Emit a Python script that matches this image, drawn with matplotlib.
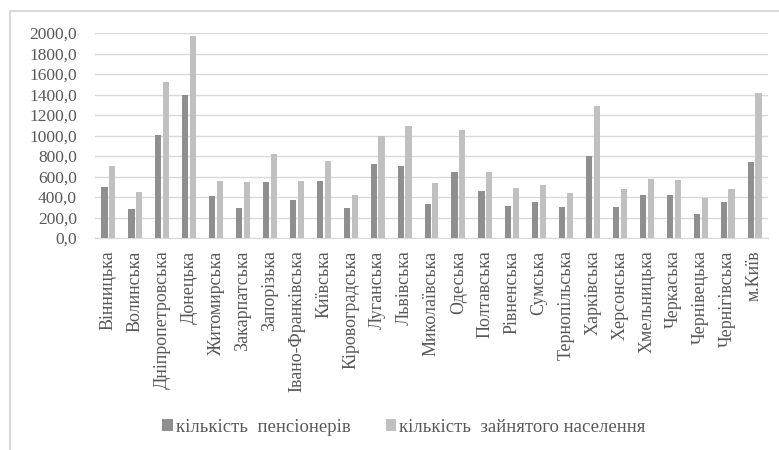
import matplotlib
matplotlib.use("Agg")
import numpy as np
import matplotlib.pyplot as plt
from matplotlib.patches import Rectangle
from matplotlib.ticker import FuncFormatter

regions = ['Вінницька', 'Волинська', 'Дніпропетровська', 'Донецька', 'Житомирська',
           'Закарпатська', 'Запорізька', 'Івано-Франківська', 'Київська', 'Кіровоградська',
           'Луганська', 'Львівська', 'Миколаївська', 'Одеська', 'Полтавська',
           'Рівненська', 'Сумська', 'Тернопільська', 'Харківська', 'Херсонська',
           'Хмельницька', 'Черкаська', 'Чернівецька', 'Чернігівська', 'м.Київ']
pensioners = [502, 282, 1004, 1395, 405, 291, 542, 367, 560, 297,
              722, 703, 336, 645, 462, 309, 356, 301, 801, 301,
              415, 415, 232, 356, 745]
employed = [704, 447, 1526, 1968, 552, 542, 821, 560, 750, 424,
            999, 1097, 532, 1058, 645, 492, 513, 435, 1288, 474,
            572, 563, 390, 474, 1412]

text_color = '#595959'
plt.rcParams['font.family'] = ['Liberation Serif', 'DejaVu Serif']

fig = plt.figure(figsize=(7.79, 4.5), dpi=100)
W, H = 779, 450
ax = fig.add_axes([95 / W, 212 / H, 673 / W, 205 / H])

x = np.arange(len(regions))
w = 0.23
ax.bar(x - 0.145, pensioners, w, color='#8f8f8f', label='кількість  пенсіонерів', zorder=3)
ax.bar(x + 0.145, employed, w, color='#c0c0c0', label='кількість  зайнятого населення', zorder=3)

ax.set_xlim(-0.5, len(regions) - 0.5)
ax.set_ylim(0, 2000)
ax.set_yticks(range(0, 2001, 200))
ax.yaxis.set_major_formatter(FuncFormatter(lambda v, p: f'{v:.1f}'.replace('.', ',')))
ax.grid(axis='y', color='#d9d9d9', linewidth=1, zorder=0)
for s in ['top', 'right', 'left']:
    ax.spines[s].set_visible(False)
ax.spines['bottom'].set_color('#d9d9d9')
ax.tick_params(length=0, colors=text_color)
ax.tick_params(axis='y', labelsize=12.5, pad=13)
ax.set_xticks(x)
ax.set_xticklabels(regions, rotation=90, fontsize=13, color=text_color)
ax.tick_params(axis='x', pad=9)

leg = fig.legend(loc='center', bbox_to_anchor=(404 / W, 1 - 427 / H), ncol=2, frameon=False,
                 fontsize=13.5, handlelength=0.55, handleheight=0.55, handletextpad=0.15,
                 columnspacing=1.9)
for t in leg.get_texts():
    t.set_color(text_color)

# chart frame (cut off on the right and bottom)
fig.patches.append(Rectangle((10 / W, -0.1), 1.0, 1 - 11 / H + 0.1, transform=fig.transFigure,
                             fill=False, edgecolor='#d9d9d9', linewidth=1.5))

fig.savefig('out.png', dpi=100)
